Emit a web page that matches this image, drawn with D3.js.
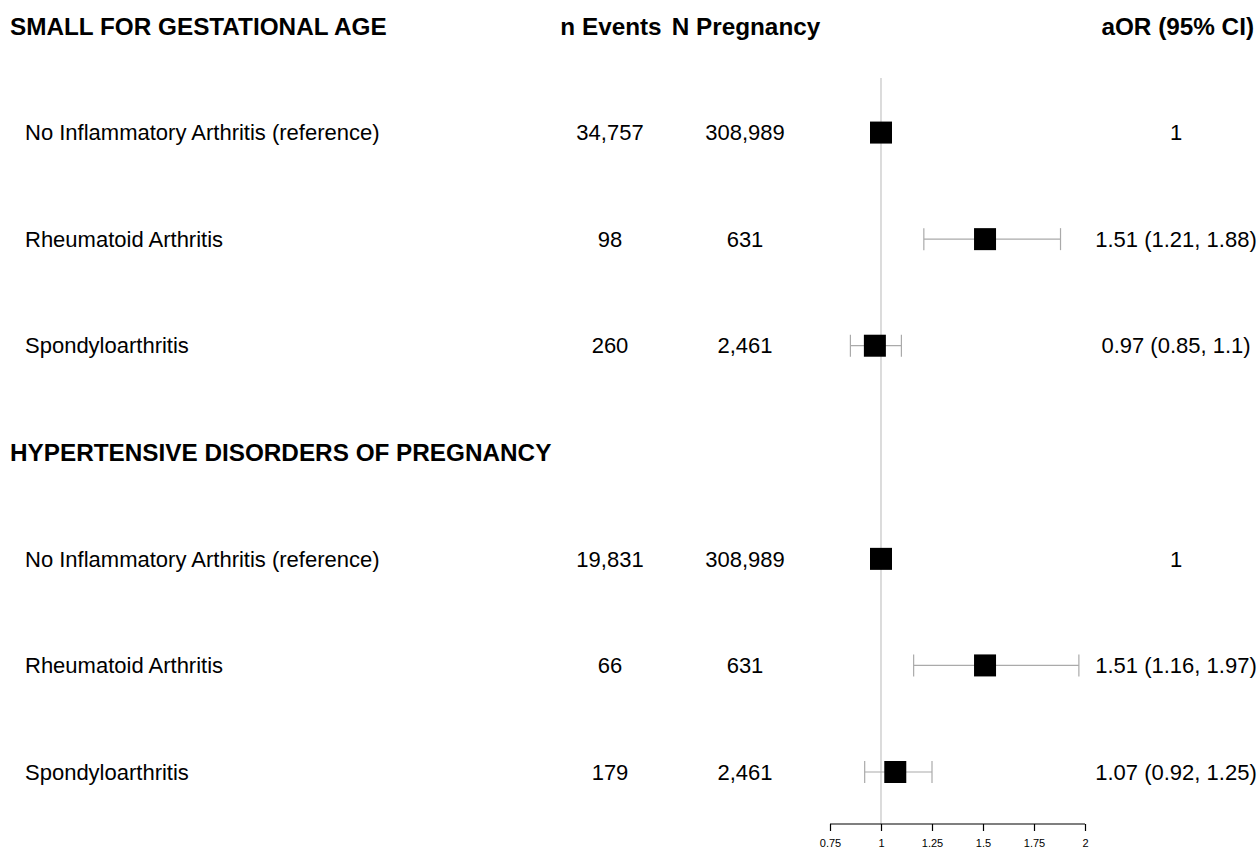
<!DOCTYPE html>
<html>
<head>
<meta charset="utf-8">
<script src="https://cdn.jsdelivr.net/npm/d3@7"></script>
<style>
  body { margin: 0; background: #fff; }
  svg text { font-family: "Liberation Sans", Arial, sans-serif; fill: #000; }
</style>
</head>
<body>
<div id="chart"></div>
<script>
// rows in display order, headers included
const rowTypes = ["header", "data", "data", "data", "header", "data", "data", "data"];
const rowLabels = [
  "SMALL FOR GESTATIONAL AGE",
  "No Inflammatory Arthritis (reference)",
  "Rheumatoid Arthritis",
  "Spondyloarthritis",
  "HYPERTENSIVE DISORDERS OF PREGNANCY",
  "No Inflammatory Arthritis (reference)",
  "Rheumatoid Arthritis",
  "Spondyloarthritis"
];
const nEvents = ["", "34,757", "98", "260", "", "19,831", "66", "179"];
const nPregnancy = ["", "308,989", "631", "2,461", "", "308,989", "631", "2,461"];
const aor = [null, 1, 1.51, 0.97, null, 1, 1.51, 1.07];
const ciLow = [null, null, 1.21, 0.85, null, null, 1.16, 0.92];
const ciHigh = [null, null, 1.88, 1.1, null, null, 1.97, 1.25];
const aorText = ["", "1", "1.51 (1.21, 1.88)", "0.97 (0.85, 1.1)", "", "1", "1.51 (1.16, 1.97)", "1.07 (0.92, 1.25)"];
const tickValues = [0.75, 1, 1.25, 1.5, 1.75, 2];

const width = 1258, height = 849;
const fsText = 22, fsBold = 24.3;

const svg = d3.select("#chart")
  .append("svg")
  .attr("width", width)
  .attr("height", height);

const y = d3.scalePoint()
  .domain(d3.range(rowLabels.length))
  .range([26, 772]);

const x = d3.scaleLinear()
  .domain([0.75, 2])
  .range([830, 1085]);

const axisY = 824;

// column headers
const headers = svg.append("g").attr("font-weight", "bold").attr("font-size", fsBold);
headers.append("text").attr("x", 611).attr("y", y(0)).attr("dy", "0.35em")
  .attr("text-anchor", "middle").text("n Events");
headers.append("text").attr("x", 746).attr("y", y(0)).attr("dy", "0.35em")
  .attr("text-anchor", "middle").text("N Pregnancy");
headers.append("text").attr("x", 1254).attr("y", y(0)).attr("dy", "0.35em")
  .attr("text-anchor", "end").text("aOR (95% CI)");

// reference line at 1
svg.append("line")
  .attr("x1", x(1)).attr("x2", x(1))
  .attr("y1", 78).attr("y2", axisY)
  .attr("stroke", "#c4c4c4").attr("stroke-width", 1.2);

const rows = svg.selectAll("g.row")
  .data(rowLabels.map((d, i) => i))
  .enter()
  .append("g")
  .attr("class", "row")
  .attr("transform", i => `translate(0,${y(i)})`);

rows.append("text")
  .attr("x", i => rowTypes[i] === "header" ? 10 : 25)
  .attr("dy", "0.35em")
  .attr("font-size", i => rowTypes[i] === "header" ? fsBold : fsText)
  .attr("font-weight", i => rowTypes[i] === "header" ? "bold" : "normal")
  .text(i => rowLabels[i]);

rows.append("text")
  .attr("x", 610).attr("dy", "0.35em").attr("font-size", fsText)
  .attr("text-anchor", "middle")
  .text(i => nEvents[i]);

rows.append("text")
  .attr("x", 745).attr("dy", "0.35em").attr("font-size", fsText)
  .attr("text-anchor", "middle")
  .text(i => nPregnancy[i]);

rows.append("text")
  .attr("x", 1176).attr("dy", "0.35em").attr("font-size", fsText)
  .attr("text-anchor", "middle")
  .text(i => aorText[i]);

// confidence intervals
const ciRows = rows.filter(i => ciLow[i] != null);
const cap = 11;
ciRows.append("line")
  .attr("x1", i => x(ciLow[i])).attr("x2", i => x(ciHigh[i]))
  .attr("stroke", "#aaaaaa").attr("stroke-width", 1.2);
ciRows.append("line")
  .attr("x1", i => x(ciLow[i])).attr("x2", i => x(ciLow[i]))
  .attr("y1", -cap).attr("y2", cap)
  .attr("stroke", "#aaaaaa").attr("stroke-width", 1.2);
ciRows.append("line")
  .attr("x1", i => x(ciHigh[i])).attr("x2", i => x(ciHigh[i]))
  .attr("y1", -cap).attr("y2", cap)
  .attr("stroke", "#aaaaaa").attr("stroke-width", 1.2);

// point estimates
const sq = 22;
rows.filter(i => aor[i] != null)
  .append("rect")
  .attr("x", i => x(aor[i]) - sq / 2)
  .attr("y", -sq / 2)
  .attr("width", sq).attr("height", sq)
  .attr("fill", "#000");

// x axis
const axis = d3.axisBottom(x)
  .tickValues(tickValues)
  .tickSize(7)
  .tickFormat(d => String(d));

const ax = svg.append("g")
  .attr("transform", `translate(0,${axisY})`)
  .call(axis);
ax.select(".domain").attr("d", `M${x(0.75)},0H${x(2)}`).attr("stroke", "#000").attr("stroke-width", 1.2);
ax.selectAll(".tick line").attr("stroke", "#000").attr("stroke-width", 1.2);
ax.selectAll(".tick text")
  .attr("font-size", 11)
  .attr("font-family", "Liberation Sans, Arial, sans-serif")
  .attr("y", 15);
</script>
</body>
</html>
